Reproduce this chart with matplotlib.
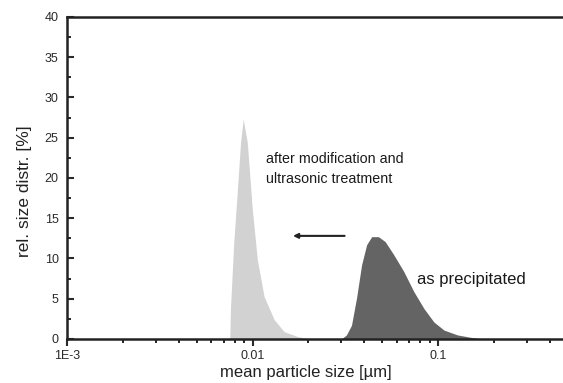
import matplotlib.pyplot as plt
from matplotlib.ticker import FixedLocator, FixedFormatter, LogLocator, NullFormatter

plt.rcParams['font.family'] = ['Liberation Sans', 'DejaVu Sans']

# after modification and ultrasonic treatment (light peak)
light_x = [0.00753, 0.00755, 0.00759, 0.00791, 0.00826, 0.00861, 0.00890,
           0.00936, 0.00996, 0.01061, 0.01152, 0.01306, 0.01480, 0.01750, 0.0200]
light_y = [0, 1.0, 3.6, 11.9, 18.2, 24.4, 27.3,
           24.4, 16.1, 9.8, 5.3, 2.4, 0.9, 0.3, 0]

# as precipitated (dark peak)
dark_x = [0.03008, 0.03201, 0.03409, 0.03630, 0.03864, 0.04113, 0.04378,
          0.04760, 0.05171, 0.05743, 0.06511, 0.07379, 0.08362, 0.09476,
          0.1074, 0.1269, 0.1498, 0.173]
dark_y = [0, 0.5, 1.7, 5.1, 9.2, 11.7, 12.7,
          12.7, 12.1, 10.5, 8.4, 5.9, 3.8, 2.1,
          1.1, 0.5, 0.2, 0]

major_x = [1e-3, 1e-2, 1e-1]
major_labels = ['1E-3', '0.01', '0.1']

fig = plt.figure(figsize=(5.63, 3.83), dpi=100)
ax = fig.add_axes([0.119, 0.115, 0.881, 0.841])

ax.fill_between(light_x, light_y, color='#d2d2d2', lw=0)
ax.fill_between(dark_x, dark_y, color='#646464', lw=0)

ax.set_xscale('log')
ax.set_xlim(1e-3, 0.47)
ax.set_ylim(0, 40)

ax.xaxis.set_major_locator(FixedLocator(major_x))
ax.xaxis.set_major_formatter(FixedFormatter(major_labels))
ax.xaxis.set_minor_locator(LogLocator(base=10, subs=range(2, 10)))
ax.xaxis.set_minor_formatter(NullFormatter())
ax.set_yticks(range(0, 41, 5))
ax.set_yticks([2.5 + 5 * i for i in range(8)], minor=True)

ax.tick_params(axis='x', which='major', direction='out', length=5, width=1.5,
               labelsize=9, colors='#2a2a2a', pad=3)
ax.tick_params(axis='x', which='minor', direction='out', length=3, width=1.2)
ax.tick_params(axis='y', which='major', direction='in', length=5, width=1.5,
               labelsize=9, colors='#2a2a2a', pad=6)
ax.tick_params(axis='y', which='minor', direction='in', length=3, width=1.2)

for s in ['left', 'bottom', 'top']:
    ax.spines[s].set_linewidth(1.8)
    ax.spines[s].set_color('#222222')
ax.spines['right'].set_visible(False)

fig.text(306 / 563, 1 - 373 / 383, 'mean particle size [\u00b5m]', fontsize=12,
         ha='center', va='center', color='#222222')
fig.text(25 / 563, 1 - 191 / 383, 'rel. size distr. [%]', fontsize=12.5,
         ha='center', va='center', rotation=90, color='#222222')

ax.text(0.0118, 21.1, 'after modification and\nultrasonic treatment',
        fontsize=10.3, va='center', ha='left', color='#1a1a1a', linespacing=1.5)
ax.text(0.0769, 7.35, 'as precipitated', fontsize=12, va='center', ha='left',
        color='#1a1a1a')
ax.annotate('', xy=(0.0165, 12.8), xytext=(0.0313, 12.8),
            arrowprops=dict(arrowstyle='-|>', color='#222222', lw=1.5,
                            mutation_scale=7, shrinkA=0, shrinkB=0))

fig.savefig('out.png', dpi=100)
